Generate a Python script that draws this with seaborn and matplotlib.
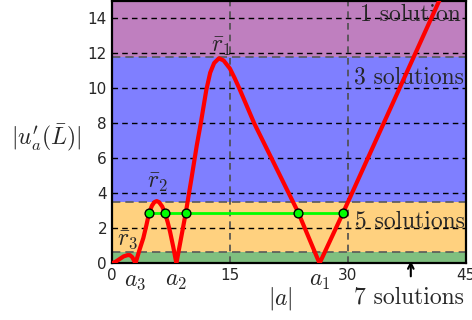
import matplotlib
matplotlib.use("Agg")
import matplotlib.pyplot as plt
import seaborn as sns
import numpy as np
import pandas as pd

# ---- data ----
curve_x = [0.0, 0.5, 1.0, 1.5, 2.0, 2.3, 2.6, 3.0, 3.5, 4.0, 4.4, 4.74, 5.1, 5.4,
           5.7, 6.0, 6.4, 6.73, 7.1, 7.4, 7.8, 8.2, 9.4, 10.1, 10.8, 11.3, 12.0,
           12.5, 13.0, 13.6, 14.2, 15.0, 15.6, 16.2, 18.1, 20.3, 23.7, 26.4,
           29.4, 41.6, 45.0]
curve_y = [0.0, 0.1, 0.25, 0.4, 0.47, 0.47, 0.35, 0.0, 0.75, 1.45, 2.2, 2.9, 3.3, 3.5,
           3.56, 3.5, 3.25, 2.9, 2.35, 1.8, 0.95, 0.0, 2.9, 4.8, 6.76, 8.0, 9.9,
           10.9, 11.45, 11.72, 11.6, 11.14, 10.6, 10.0, 8.0, 6.0, 2.9, 0.0,
           2.9, 15.0, 18.4]

green_x = [4.74, 6.73, 9.4, 23.7, 29.4]
green_y = [2.9, 2.9, 2.9, 2.9, 2.9]

band_edges = [0.0, 0.63, 3.52, 11.8, 15.0]
band_colors = ["green", "orange", "blue", "purple"]

xtick_pos = [0, 3.0, 8.2, 15, 26.4, 30, 45]
xtick_labels = ["0", r"$a_3$", r"$a_2$", "15", r"$a_1$", "30", "45"]
ytick_pos = [0, 2, 4, 6, 8, 10, 12, 14]

peak_labels = [r"$\bar{r}_1$", r"$\bar{r}_2$", r"$\bar{r}_3$"]
peak_pos = [(13.9, 12.4), (5.8, 4.65), (2.0, 1.33)]

sol_labels = ["1 solution", "3 solutions", "5 solutions"]
sol_pos = [(31.5, 14.2), (30.8, 10.6), (30.9, 2.4)]

# ---- figure ----
sns.set_style("white")
plt.rcParams["mathtext.fontset"] = "cm"
plt.rcParams["font.family"] = ["DejaVu Sans"]

fig = plt.figure(figsize=(4.72, 3.2), dpi=100)
ax = fig.add_axes([0.237, 0.177, 0.75, 0.82])

for lo, hi, c in zip(band_edges[:-1], band_edges[1:], band_colors):
    ax.axhspan(lo, hi, facecolor=c, alpha=0.5, edgecolor="none", zorder=0)
    ax.axhline(hi, color="0.35", ls=(0, (5, 3)), lw=1.2, zorder=1)

for yv in ytick_pos[1:]:
    ax.axhline(yv, color="k", ls=(0, (4, 3)), lw=1.0, zorder=1)
for xv in [15, 30]:
    ax.axvline(xv, color="0.3", ls=(0, (4, 3)), lw=1.2, zorder=1)

df = pd.DataFrame({"x": curve_x, "y": curve_y})
sns.lineplot(data=df, x="x", y="y", color="red", lw=3, ax=ax, zorder=3, sort=False)

gdf = pd.DataFrame({"x": green_x, "y": green_y})
sns.lineplot(data=gdf, x="x", y="y", color="#00ff00", lw=2, ax=ax, zorder=4, sort=False)
sns.scatterplot(data=gdf, x="x", y="y", color="#00ff00", edgecolor="k", s=40,
                linewidth=1, ax=ax, zorder=5)

ax.set_xlim(0, 45)
ax.set_ylim(0, 15)
ax.set_xticks(xtick_pos)
ax.set_xticklabels(xtick_labels)
for lbl, txt in zip(ax.get_xticklabels(), xtick_labels):
    lbl.set_fontsize(17 if txt.startswith("$") else 11)
ax.set_yticks(ytick_pos)
ax.tick_params(axis="y", labelsize=11, direction="in", length=4)
ax.tick_params(axis="x", direction="in", length=4, pad=3)
for s in ax.spines.values():
    s.set_linewidth(1.6)
    s.set_color("k")

ax.set_xlabel(r"$|a|$", fontsize=17)
ax.xaxis.set_label_coords(0.477, -0.083)
ax.xaxis.label.set_va("top")
ax.set_ylabel(r"$|u^{\prime}_{a}(\bar{L})|$", fontsize=17, rotation=0)
ax.yaxis.set_label_coords(-0.186, 0.478)
ax.yaxis.label.set_ha("center")
ax.yaxis.label.set_va("center")

for (tx, ty), txt in zip(sol_pos, sol_labels):
    ax.text(tx, ty, txt, fontfamily="cmr10", fontsize=17, va="center", ha="left", zorder=2)
ax.text(30.8, -1.95, "7 solutions", fontfamily="cmr10", fontsize=17, va="center",
        ha="left", clip_on=False)
ax.annotate("", xy=(38, 0.3), xytext=(38, -0.9), annotation_clip=False,
            arrowprops=dict(arrowstyle="->", color="k", lw=1.5))

for txt, (px, py) in zip(peak_labels, peak_pos):
    ax.text(px, py, txt, fontsize=17, ha="center", va="center", zorder=6)

fig.savefig("out.png", dpi=100)
